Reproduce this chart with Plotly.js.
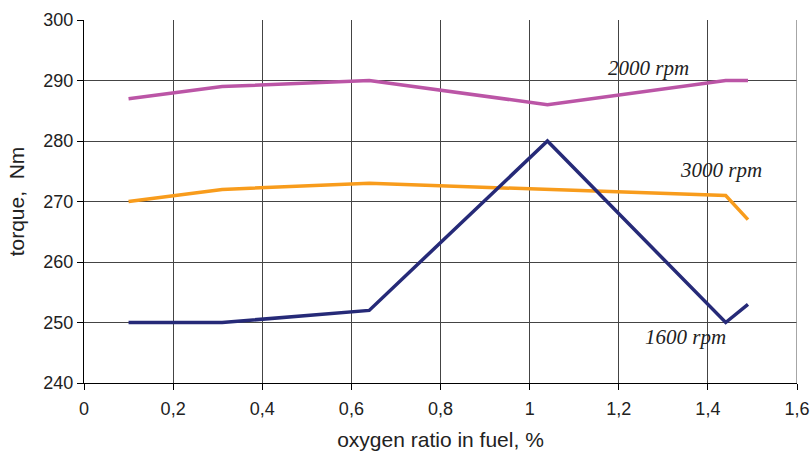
<!DOCTYPE html>
<html>
<head>
<meta charset="utf-8">
<script src="https://cdn.plot.ly/plotly-3.0.1.min.js"></script>
<style>
  html, body { margin: 0; padding: 0; background: #fff; }
  #chart { width: 811px; height: 452px; }
</style>
</head>
<body>
<div id="chart"></div>
<script>
// Oxygen ratio in fuel (%) at which torque was measured
const oxygenRatio = [0.1, 0.31, 0.64, 1.04, 1.44, 1.49];

// Torque (Nm) per engine speed
const torque1600 = [250, 250, 252, 280, 250, 253];
const torque2000 = [287, 289, 290, 286, 290, 290];
const torque3000 = [270, 272, 273, 272, 271, 267];

const seriesNames = ['1600 rpm', '2000 rpm', '3000 rpm'];
const xTicks = [0, 0.2, 0.4, 0.6, 0.8, 1, 1.2, 1.4, 1.6];
const yTicks = [240, 250, 260, 270, 280, 290, 300];

const lineTrace = (y, name, color) => ({
  x: oxygenRatio,
  y: y,
  name: name,
  type: 'scatter',
  mode: 'lines',
  line: { color: color, width: 3.5 },
  hoverinfo: 'x+y+name'
});

const traces = [
  lineTrace(torque2000, seriesNames[1], '#bb55a6'),
  lineTrace(torque3000, seriesNames[2], '#f89c1c'),
  lineTrace(torque1600, seriesNames[0], '#262a78')
];

const labelFont = { family: 'Liberation Serif, Times New Roman, serif', size: 21, color: '#222' };
const label = (x, y, text) => ({
  x: x, y: y, xref: 'x', yref: 'y', text: '<i>' + text + '</i>',
  showarrow: false, font: labelFont, xanchor: 'center', yanchor: 'middle'
});

const layout = {
  width: 811,
  height: 452,
  margin: { l: 84, r: 14, t: 20, b: 69 },
  paper_bgcolor: '#fff',
  plot_bgcolor: '#fff',
  showlegend: false,
  separators: ', ',
  font: { family: 'Liberation Sans, Arial, sans-serif', size: 18, color: '#222' },
  xaxis: {
    range: [0, 1.6],
    tickvals: xTicks,
    ticktext: xTicks.map(v => String(v).replace('.', ',')),
    ticks: 'outside',
    ticklen: 6,
    tickcolor: '#000',
    ticklabelstandoff: 3,
    showgrid: true,
    gridcolor: '#444',
    gridwidth: 1,
    showline: true,
    linecolor: '#000',
    linewidth: 1,
    zeroline: false,
    tickfont: { size: 18, color: '#222' },
    title: { text: 'oxygen ratio in fuel, %', font: { size: 21, color: '#222' }, standoff: 14 }
  },
  yaxis: {
    range: [240, 300],
    tickvals: yTicks,
    ticks: 'outside',
    ticklen: 6,
    tickcolor: '#000',
    showgrid: true,
    gridcolor: '#444',
    gridwidth: 1,
    showline: true,
    linecolor: '#000',
    linewidth: 1,
    zeroline: false,
    tickfont: { size: 18, color: '#222' },
    title: { text: 'torque,  Nm', font: { size: 21, color: '#222' }, standoff: 13 }
  },
  shapes: [
    // right-hand frame edge
    { type: 'line', xref: 'x', yref: 'y', x0: 1.6, x1: 1.6, y0: 240, y1: 300,
      line: { color: '#888', width: 1.5 } }
  ],
  annotations: [
    label(1.266, 292.1, seriesNames[1]),
    label(1.43, 275.2, seriesNames[2]),
    label(1.35, 247.6, seriesNames[0])
  ]
};

Plotly.newPlot('chart', traces, layout, { displayModeBar: false, staticPlot: true });
</script>
</body>
</html>
